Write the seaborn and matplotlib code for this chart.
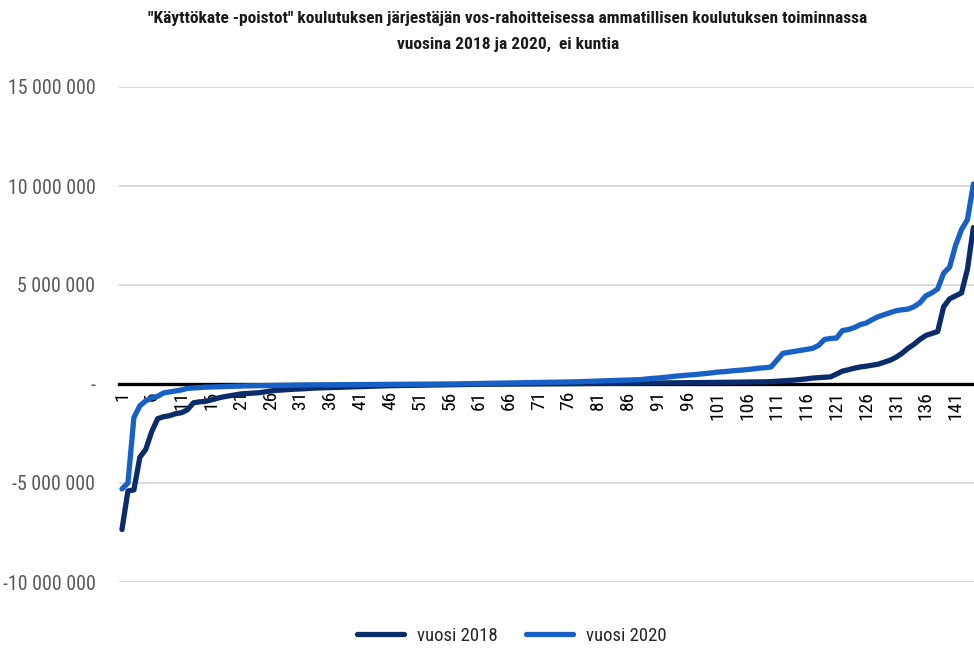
import numpy as np
import pandas as pd
import matplotlib
matplotlib.use("Agg")
import matplotlib.pyplot as plt
import seaborn as sns
from matplotlib import font_manager
from matplotlib.lines import Line2D

# ---------------- data (euros, given in millions) ----------------
title_lines = ['"Käyttökate -poistot" koulutuksen järjestäjän vos-rahoitteisessa ammatillisen koulutuksen toiminnassa',
               'vuosina 2018 ja 2020,  ei kuntia']
series_names = ["vuosi 2018", "vuosi 2020"]

v2018_m = [-7.35, -5.4, -5.35, -3.7, -3.3, -2.4, -1.75, -1.65, -1.6, -1.5,
           -1.45, -1.3, -0.95, -0.9, -0.88, -0.8, -0.72, -0.65, -0.6, -0.55,
           -0.5, -0.48, -0.46, -0.44, -0.4, -0.35, -0.32, -0.3, -0.28, -0.26,
           -0.25, -0.23, -0.21, -0.2, -0.19, -0.18, -0.17, -0.16, -0.15, -0.14,
           -0.13, -0.12, -0.11, -0.1, -0.09, -0.085, -0.08, -0.075, -0.07, -0.065,
           -0.06, -0.055, -0.05, -0.045, -0.04, -0.035, -0.03, -0.025, -0.02, -0.018,
           -0.015, -0.012, -0.01, -0.008, -0.006, -0.004, -0.002, 0.0, 0.002, 0.004,
           0.006, 0.008, 0.01, 0.012, 0.014, 0.016, 0.018, 0.02, 0.022, 0.024,
           0.026, 0.028, 0.03, 0.032, 0.035, 0.038, 0.04, 0.043, 0.046, 0.05,
           0.052, 0.055, 0.058, 0.06, 0.063, 0.066, 0.07, 0.072, 0.075, 0.078,
           0.08, 0.083, 0.086, 0.09, 0.093, 0.096, 0.1, 0.105, 0.11, 0.12,
           0.14, 0.16, 0.18, 0.2, 0.23, 0.26, 0.3, 0.32, 0.34, 0.36,
           0.5, 0.65, 0.72, 0.8, 0.86, 0.9, 0.95, 1.0, 1.1, 1.2,
           1.35, 1.55, 1.8, 2.0, 2.25, 2.45, 2.55, 2.65, 3.9, 4.3,
           4.45, 4.6, 5.8, 7.9]

v2020_m = [-5.3, -5.0, -1.7, -1.1, -0.85, -0.7, -0.62, -0.45, -0.4, -0.35,
           -0.3, -0.22, -0.2, -0.18, -0.16, -0.15, -0.14, -0.13, -0.12, -0.11,
           -0.1, -0.095, -0.09, -0.085, -0.08, -0.075, -0.07, -0.065, -0.06, -0.055,
           -0.05, -0.048, -0.046, -0.044, -0.042, -0.04, -0.038, -0.036, -0.034, -0.032,
           -0.03, -0.028, -0.026, -0.024, -0.022, -0.02, -0.018, -0.016, -0.014, -0.012,
           -0.01, -0.008, -0.006, -0.004, -0.002, 0.0, 0.005, 0.01, 0.015, 0.02,
           0.025, 0.03, 0.035, 0.04, 0.045, 0.05, 0.055, 0.06, 0.065, 0.07,
           0.075, 0.08, 0.085, 0.09, 0.095, 0.1, 0.11, 0.12, 0.13, 0.14,
           0.15, 0.16, 0.17, 0.18, 0.19, 0.2, 0.21, 0.22, 0.25, 0.28,
           0.3, 0.33, 0.36, 0.4, 0.42, 0.45, 0.47, 0.5, 0.53, 0.56,
           0.6, 0.62, 0.65, 0.68, 0.7, 0.73, 0.76, 0.8, 0.82, 0.86,
           1.2, 1.55, 1.6, 1.65, 1.7, 1.75, 1.8, 1.95, 2.25, 2.3,
           2.32, 2.7, 2.75, 2.85, 3.0, 3.08, 3.25, 3.4, 3.5, 3.6,
           3.7, 3.75, 3.78, 3.9, 4.1, 4.45, 4.6, 4.8, 5.6, 5.9,
           7.0, 7.8, 8.3, 10.1]

y_ticks = [-10e6, -5e6, 0, 5e6, 10e6, 15e6]
y_tick_labels = ["-10 000 000", "-5 000 000", "-", "5 000 000", "10 000 000", "15 000 000"]

n = len(v2018_m)
positions = list(range(1, n + 1))
x_ticks = list(range(1, n + 1, 5))
x_tick_labels = [str(t) for t in x_ticks]

df = pd.DataFrame({
    "pos": positions * 2,
    "value": [v * 1e6 for v in v2018_m] + [v * 1e6 for v in v2020_m],
    "series": [series_names[0]] * n + [series_names[1]] * n,
})

colors = {series_names[0]: "#0b2c6b", series_names[1]: "#1760c6"}

# ---------------- style ----------------
sns.set_style("white")
candidates = ["Liberation Sans Narrow", "DejaVu Sans Condensed", "Roboto Condensed",
              "Open Sans Condensed", "Liberation Sans"]
avail = {f.name for f in font_manager.fontManager.ttflist}
fam = [c for c in candidates if c in avail] + ["DejaVu Sans"]
plt.rcParams["font.family"] = fam

fig = plt.figure(figsize=(9.74, 6.48), dpi=100)
ax = fig.add_axes([119 / 974, 1 - 582 / 648, 1 - 119 / 974, (582 - 87) / 648])

sns.lineplot(data=df, x="pos", y="value", hue="series", palette=colors, ax=ax,
             linewidth=3.8, legend=False, estimator=None, sort=False,
             zorder=3)
for line in ax.get_lines():
    line.set_solid_capstyle("round")
    line.set_solid_joinstyle("round")

# spines first (set_position resets ticks)
for s in ["left", "right", "top"]:
    ax.spines[s].set_visible(False)
ax.spines["bottom"].set_position(("data", 0))
ax.spines["bottom"].set_color("black")
ax.spines["bottom"].set_linewidth(2.4)
ax.spines["bottom"].set_zorder(2)

ax.set_xlim(0.5, n + 0.1)
ax.set_ylim(-10e6, 15e6)
ax.set_yticks(y_ticks)
ax.set_yticklabels(y_tick_labels)
ax.set_xticks(x_ticks)
ax.set_xticklabels(x_tick_labels)
ax.set_xlabel("")
ax.set_ylabel("")
ax.tick_params(axis="x", length=0, pad=5, labelrotation=90, labelsize=14, labelcolor="black")
ax.tick_params(axis="y", length=0, pad=17, labelsize=14.3, labelcolor="#595959")

ax.yaxis.grid(True, color="#d9d9d9", linewidth=1.4)
ax.xaxis.grid(False)
ax.set_axisbelow(True)

# title
fig.text(508 / 974, 1 - 19 / 648, title_lines[0], ha="center", va="center",
         fontsize=12.5, fontweight="bold", color="#1a1a1a")
fig.text(508 / 974, 1 - 44 / 648, title_lines[1], ha="center", va="center",
         fontsize=12.5, fontweight="bold", color="#1a1a1a")

# legend
handles = [Line2D([0], [0], color=colors[s], lw=3.8, solid_capstyle="round") for s in series_names]
fig.legend(handles, series_names, loc="center", bbox_to_anchor=(512 / 974, 1 - 636 / 648),
           ncol=2, frameon=False, fontsize=13.5, handlelength=2.5, columnspacing=1.5,
           handletextpad=0.7)

fig.savefig("out.png", dpi=100)
